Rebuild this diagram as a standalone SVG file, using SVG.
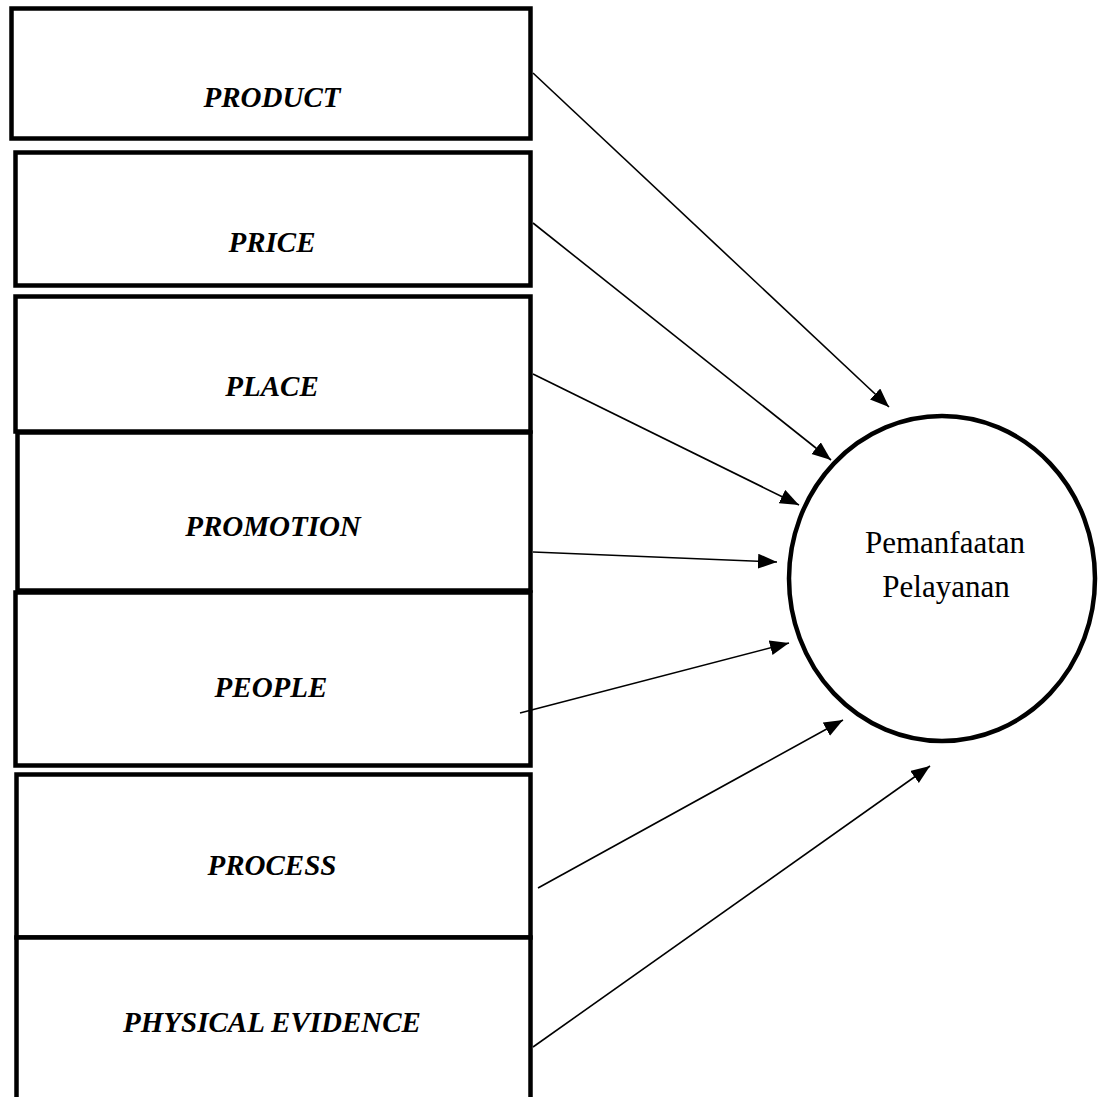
<svg xmlns="http://www.w3.org/2000/svg" width="1105" height="1097" viewBox="0 0 1105 1097">
  <style>
    .box { fill: #ffffff; stroke: #000000; stroke-width: 4.5; }
    .lbl { font-family: "Liberation Serif", "Times New Roman", serif; font-size: 29px; font-weight: bold; font-style: italic; fill: #000000; text-anchor: middle; }
    .ctr { font-family: "Liberation Serif", "Times New Roman", serif; font-size: 31px; fill: #000000; text-anchor: middle; }
    .conn { stroke: #000000; stroke-width: 1.6; fill: none; marker-end: url(#arrow); }
  </style>
  <defs>
    <marker id="arrow" markerUnits="userSpaceOnUse" markerWidth="20" markerHeight="16" refX="19" refY="7.5" orient="auto">
      <path d="M0,0 L19,7.5 L0,15 z" fill="#000000"/>
    </marker>
  </defs>
  <rect x="0" y="0" width="1105" height="1097" fill="#ffffff"/>

  <g id="node-product">
    <rect class="box" x="11.5" y="8.5" width="519" height="130"/>
    <text class="lbl" x="272" y="107">PRODUCT</text>
  </g>
  <g id="node-price">
    <rect class="box" x="15.5" y="152.5" width="515" height="133"/>
    <text class="lbl" x="272" y="252">PRICE</text>
  </g>
  <g id="node-place">
    <rect class="box" x="15.5" y="296.5" width="515" height="135"/>
    <text class="lbl" x="272" y="396">PLACE</text>
  </g>
  <g id="node-promotion">
    <rect class="box" x="17.5" y="432.5" width="513" height="158"/>
    <text class="lbl" x="273" y="536">PROMOTION</text>
  </g>
  <g id="node-people">
    <rect class="box" x="15.5" y="592.5" width="515" height="173"/>
    <text class="lbl" x="271" y="697">PEOPLE</text>
  </g>
  <g id="node-process">
    <rect class="box" x="16.5" y="774.5" width="514" height="163"/>
    <text class="lbl" x="272" y="875">PROCESS</text>
  </g>
  <g id="node-physical-evidence">
    <rect class="box" x="16.5" y="937.5" width="514" height="172"/>
    <text class="lbl" x="272" y="1032">PHYSICAL EVIDENCE</text>
  </g>

  <g id="node-pemanfaatan">
    <ellipse cx="942" cy="578.5" rx="153" ry="162.5" fill="#ffffff" stroke="#000000" stroke-width="4.5"/>
    <text class="ctr" x="945" y="553">Pemanfaatan</text>
    <text class="ctr" x="946" y="597">Pelayanan</text>
  </g>

  <g id="connectors">
    <line class="conn" x1="533" y1="73" x2="889" y2="407"/>
    <line class="conn" x1="533" y1="223" x2="831" y2="460"/>
    <line class="conn" x1="533" y1="374" x2="799" y2="505"/>
    <line class="conn" x1="533" y1="552" x2="777" y2="562"/>
    <line class="conn" x1="520" y1="713" x2="789" y2="643"/>
    <line class="conn" x1="538" y1="888" x2="843" y2="720"/>
    <line class="conn" x1="533" y1="1047" x2="930" y2="766"/>
  </g>
</svg>
